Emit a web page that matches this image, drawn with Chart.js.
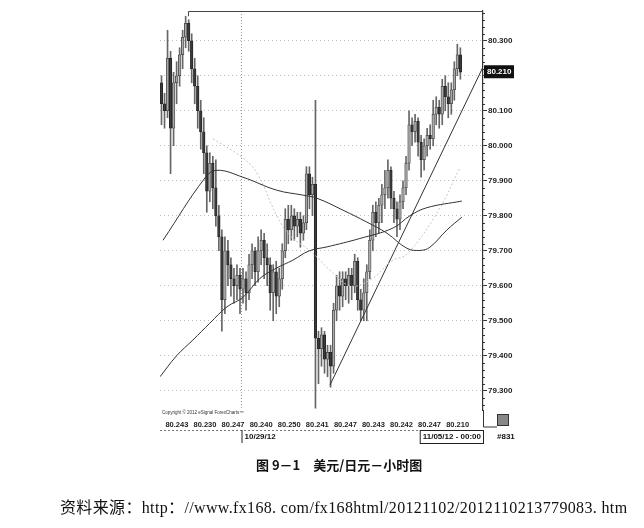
<!DOCTYPE html>
<html>
<head>
<meta charset="utf-8">
<script src="https://cdn.jsdelivr.net/npm/chart.js@4.4.0/dist/chart.umd.min.js"></script>
<style>
  body { margin:0; background:#fff; width:644px; height:528px; position:relative; overflow:hidden; }
  #c { position:absolute; left:0; top:0; }
  .caption { position:absolute; left:256px; top:455px; font:bold 13px "Noto Sans CJK SC", sans-serif; color:#111; white-space:nowrap; }
  .source { position:absolute; left:60px; top:494px; font:16px "Liberation Serif", "Noto Sans CJK SC", serif; letter-spacing:0.35px; color:#111; white-space:nowrap; }
</style>
</head>
<body>
<canvas id="c" width="644" height="528"></canvas>
<div class="caption">图 9－1　美元/日元－小时图</div>
<div class="source">资料来源：http：//www.fx168. com/fx168html/20121102/2012110213779083. htm</div>
<script>
// hourly USD/JPY candles
const opens = [80.18,80.12,80.10,80.25,80.05,80.18,80.20,80.26,80.31,80.35,
  80.30,80.22,80.17,80.10,80.04,79.98,79.87,79.95,79.88,79.80,
  79.74,79.56,79.70,79.66,79.62,79.60,79.63,79.59,79.62,79.58,
  79.66,79.70,79.64,79.70,79.73,79.68,79.66,79.58,79.64,79.57,
  79.62,79.70,79.79,79.76,79.80,79.77,79.79,79.75,79.78,79.92,
  79.86,79.89,79.45,79.42,79.46,79.39,79.41,79.37,79.53,79.60,
  79.57,79.62,79.60,79.63,79.60,79.67,79.56,79.53,79.58,79.64,
  79.73,79.81,79.78,79.83,79.86,79.88,79.93,79.85,79.82,79.79,
  79.84,79.88,79.95,80.06,80.04,80.07,80.01,79.96,80.00,80.03,
  80.02,80.09,80.11,80.09,80.17,80.14,80.12,80.16,80.22,80.26];
const closes = [80.12,80.10,80.25,80.05,80.18,80.20,80.26,80.31,80.35,80.30,
  80.22,80.17,80.10,80.04,79.98,79.87,79.95,79.88,79.80,79.74,
  79.56,79.70,79.66,79.62,79.60,79.63,79.59,79.62,79.58,79.66,
  79.70,79.64,79.70,79.73,79.68,79.66,79.58,79.64,79.57,79.62,
  79.70,79.79,79.76,79.80,79.77,79.79,79.75,79.78,79.92,79.86,
  79.89,79.45,79.42,79.46,79.39,79.41,79.37,79.53,79.60,79.57,
  79.62,79.60,79.63,79.60,79.67,79.56,79.53,79.58,79.64,79.73,
  79.81,79.78,79.83,79.86,79.88,79.93,79.85,79.82,79.79,79.84,
  79.88,79.95,80.06,80.04,80.07,80.01,79.96,80.00,80.03,80.02,
  80.09,80.11,80.09,80.17,80.14,80.12,80.16,80.22,80.26,80.21];
const highs = [80.20,80.15,80.33,80.27,80.21,80.24,80.28,80.33,80.37,80.36,
  80.32,80.25,80.20,80.13,80.08,80.00,79.98,79.97,79.96,79.83,
  79.76,79.74,79.73,79.68,79.65,79.66,79.65,79.65,79.64,79.69,
  79.72,79.71,79.74,79.76,79.75,79.72,79.68,79.66,79.67,79.65,
  79.72,79.82,79.83,79.83,79.82,79.81,79.81,79.80,79.94,79.94,
  79.91,80.13,79.47,79.48,79.47,79.43,79.43,79.55,79.63,79.64,
  79.64,79.64,79.65,79.65,79.69,79.68,79.59,79.62,79.66,79.76,
  79.83,79.84,79.85,79.89,79.93,79.96,79.94,79.87,79.84,79.86,
  79.90,79.97,80.10,80.08,80.09,80.08,80.03,80.02,80.05,80.06,
  80.13,80.14,80.13,80.19,80.20,80.18,80.18,80.24,80.29,80.28];
const lows = [80.06,80.05,80.08,79.92,80.00,80.12,80.17,80.22,80.28,80.27,
  80.18,80.12,80.05,79.99,79.92,79.81,79.84,79.82,79.77,79.70,
  79.47,79.52,79.60,79.57,79.55,79.56,79.52,79.55,79.53,79.56,
  79.62,79.60,79.61,79.66,79.62,79.60,79.53,79.50,79.52,79.54,
  79.59,79.68,79.72,79.73,79.73,79.74,79.71,79.73,79.76,79.82,
  79.80,79.25,79.32,79.37,79.35,79.34,79.31,79.35,79.50,79.53,
  79.54,79.56,79.55,79.56,79.58,79.53,79.50,79.50,79.50,79.62,
  79.70,79.74,79.75,79.78,79.82,79.85,79.82,79.78,79.74,79.76,
  79.82,79.86,79.93,80.00,80.01,79.97,79.91,79.93,79.97,79.99,
  80.00,80.06,80.05,80.06,80.10,80.08,80.09,80.13,80.20,80.19];

// moving averages and trend line as [bar index, price]
const maSlow = [[-0.5,79.34],[5,79.40],[10.4,79.445],[16,79.493],[21.7,79.54],[27,79.567],[32.6,79.621],
  [38,79.65],[43.5,79.673],[49,79.70],[54.8,79.711],[65.7,79.735],[76.7,79.765],[82.3,79.80],[87.9,79.823],[99.5,79.842]];
const maMid = [[0.5,79.73],[14.4,79.908],[18.4,79.93],[27,79.91],[38.2,79.873],[46.8,79.859],[51.5,79.85],
  [60.1,79.816],[68,79.782],[74.7,79.75],[81.3,79.707],[85.6,79.701],[88.9,79.71],[94.5,79.759],[99.5,79.796]];
const maFast = [[17,80.02],[26.7,79.967],[31.6,79.922],[38.2,79.80],[42.5,79.744],[49.2,79.70],[55.8,79.645],
  [62.4,79.60],[69,79.616],[76.7,79.673],[81.3,79.69],[91.2,79.807],[98.8,79.936]];
const trendLine = [[55.8,79.316],[106.5,80.225]];

const xTickLabels = ["80.243","80.230","80.247","80.240","80.250","80.241","80.247","80.243","80.242","80.247","80.210"];
const yTicks = [79.3,79.4,79.5,79.6,79.7,79.8,79.9,80.0,80.1,80.2,80.3];
const lastPrice = 80.210;
const dayBreak = 26.5;   // 10/29/12 starts here
const dayLabel = "10/29/12";
const lastBarLabel = "11/05/12 - 00:00";
const barCount = "#831";

const up = closes.map((c, i) => c >= opens[i]);
const sans = '"Liberation Sans", Arial, sans-serif';

const decor = {
  id: 'decor',
  beforeDatasetsDraw(chart) {
    const {ctx, chartArea: a, scales: {x}} = chart;
    const xd = x.getPixelForValue(dayBreak);
    ctx.save();
    ctx.strokeStyle = '#999';
    ctx.setLineDash([1, 2]);
    ctx.beginPath(); ctx.moveTo(xd, a.top); ctx.lineTo(xd, a.bottom); ctx.stroke();
    ctx.restore();
  },
  afterDraw(chart) {
    const {ctx, chartArea: a, scales: {x, y}} = chart;
    ctx.save();
    // top frame from the peak bar
    const peak = highs.indexOf(Math.max(...highs));
    const xp = Math.round(x.getPixelForValue(peak)) + 2.5;
    ctx.strokeStyle = '#444'; ctx.lineWidth = 1;
    ctx.beginPath(); ctx.moveTo(xp, y.getPixelForValue(highs[peak])); ctx.lineTo(xp, a.top + 0.5); ctx.lineTo(a.right, a.top + 0.5); ctx.stroke();

    // minor ticks on the price axis
    ctx.strokeStyle = '#333';
    for (let k = 0; k <= 57; k++) {
      const v = 79.26 + k * 0.02;
      if (Math.abs(v * 10 - Math.round(v * 10)) < 0.01) continue;
      const py = Math.round(y.getPixelForValue(v)) + 0.5;
      ctx.beginPath(); ctx.moveTo(a.right, py); ctx.lineTo(a.right + 2, py); ctx.stroke();
    }

    // last price box
    const ly = y.getPixelForValue(lastPrice);
    ctx.fillStyle = '#111';
    ctx.fillRect(a.right + 1, ly - 7, 30, 13);
    ctx.fillStyle = '#fff';
    ctx.font = 'bold 8px ' + sans;
    ctx.textBaseline = 'middle';
    ctx.fillText(lastPrice.toFixed(3), a.right + 4, ly);

    // copyright
    ctx.fillStyle = '#333';
    ctx.font = '4.5px ' + sans;
    ctx.textBaseline = 'top';
    ctx.fillText('Copyright © 2012 eSignal ForexCharts™', a.left + 2, a.bottom + 1);

    // right axis foot and corner icon
    ctx.strokeStyle = '#333';
    ctx.beginPath(); ctx.moveTo(a.right + 0.5, a.bottom); ctx.lineTo(a.right + 0.5, a.bottom + 17); ctx.lineTo(a.right + 14, a.bottom + 17); ctx.stroke();
    ctx.fillStyle = '#888';
    ctx.fillRect(a.right + 14, a.bottom + 4, 12, 12);
    ctx.strokeRect(a.right + 14.5, a.bottom + 4.5, 11, 11);

    // date row
    const r = a.bottom + 20;
    ctx.strokeStyle = '#777';
    ctx.setLineDash([2, 2]);
    ctx.beginPath(); ctx.moveTo(a.left, r + 0.5); ctx.lineTo(a.right, r + 0.5); ctx.stroke();
    ctx.setLineDash([]);
    ctx.strokeStyle = '#222';
    ctx.font = 'bold 8px ' + sans;
    ctx.fillStyle = '#111';
    ctx.textBaseline = 'middle';
    const xd = x.getPixelForValue(dayBreak);
    ctx.beginPath(); ctx.moveTo(xd + 0.5, r); ctx.lineTo(xd + 0.5, r + 13); ctx.stroke();
    ctx.fillText(dayLabel, xd + 3, r + 7);
    const w = ctx.measureText(lastBarLabel).width + 5;
    ctx.strokeRect(a.right - w + 0.5, r + 0.5, w, 13);
    ctx.fillText(lastBarLabel, a.right - w + 3, r + 7);
    ctx.fillText(barCount, a.right + 14, r + 7);
    ctx.restore();
  }
};

new Chart(document.getElementById('c'), {
  type: 'bar',
  data: {
    datasets: [{
      label: 'body',
      data: closes.map((c, i) => ({ x: i, y: [opens[i], c] })),
      backgroundColor: up.map(u => u ? '#a9a9a9' : '#3a3a3a'),
      borderColor: up.map(u => u ? '#444' : '#222'),
      borderWidth: 0.8,
      borderSkipped: false,
      barThickness: 2.6,
      grouped: false,
      order: 1
    }, {
      label: 'wick',
      data: highs.map((h, i) => ({ x: i, y: [lows[i], h] })),
      backgroundColor: '#666',
      barThickness: 1,
      grouped: false,
      order: 2
    }, {
      type: 'line',
      data: maSlow.map(([i, p]) => ({ x: i, y: p })),
      borderColor: '#333', borderWidth: 1, pointRadius: 0, tension: 0.4, order: 0
    }, {
      type: 'line',
      data: maMid.map(([i, p]) => ({ x: i, y: p })),
      borderColor: '#333', borderWidth: 1, pointRadius: 0, tension: 0.4, order: 0
    }, {
      type: 'line',
      data: maFast.map(([i, p]) => ({ x: i, y: p })),
      borderColor: '#c4c4c4', borderWidth: 1, borderDash: [2, 2], pointRadius: 0, tension: 0.4, order: 0
    }, {
      type: 'line',
      data: trendLine.map(([i, p]) => ({ x: i, y: p })),
      borderColor: '#333', borderWidth: 1, pointRadius: 0, tension: 0, order: 0
    }]
  },
  options: {
    responsive: false,
    devicePixelRatio: 1,
    animation: false,
    layout: { padding: { left: 160, top: 11, right: 121, bottom: 98 } },
    plugins: { legend: { display: false }, tooltip: { enabled: false } },
    scales: {
      x: {
        type: 'linear',
        offset: false,
        min: -0.5,
        max: 106.5,
        grid: { display: false },
        border: { display: false },
        afterFit: s => { s.height = 20; },
        afterBuildTicks: s => { s.ticks = xTickLabels.map((_, k) => ({ value: 5.1 + k * 9.3 })); },
        ticks: {
          autoSkip: false, maxRotation: 0, padding: 2,
          color: '#222', font: { family: sans, size: 7.5, weight: 'bold' },
          callback: (v, k) => xTickLabels[k]
        }
      },
      y: {
        position: 'right',
        min: 79.245,
        max: 80.385,
        afterFit: s => { s.width = 40; },
        afterBuildTicks: s => { s.ticks = yTicks.map(v => ({ value: v })); },
        grid: { color: '#bdbdbd', lineWidth: 1, tickLength: 4, tickColor: '#333' },
        border: { display: true, color: '#333', width: 1.2, dash: [1, 3] },
        ticks: {
          padding: 1, color: '#222', font: { family: sans, size: 8, weight: 'bold' },
          callback: v => v.toFixed(3)
        }
      }
    }
  },
  plugins: [decor]
});
</script>
</body>
</html>
